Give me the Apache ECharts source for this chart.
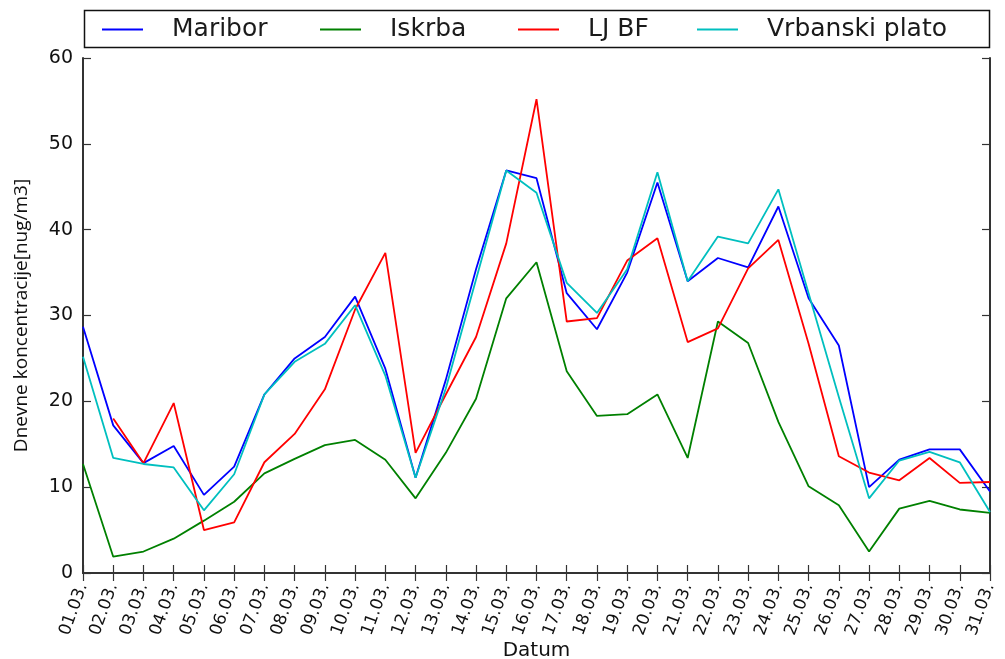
<!DOCTYPE html>
<html>
<head>
<meta charset="utf-8">
<script src="https://cdn.jsdelivr.net/npm/echarts@6/dist/echarts.min.js"></script>
<style>
  html, body { margin: 0; padding: 0; background: #fff; }
  #chart { width: 1005px; height: 659px; }
</style>
</head>
<body>
<div id="chart"></div>
<script>
// Daily concentrations, March, four measuring stations
const days = ['01.03.', '02.03.', '03.03.', '04.03.', '05.03.', '06.03.', '07.03.', '08.03.',
  '09.03.', '10.03.', '11.03.', '12.03.', '13.03.', '14.03.', '15.03.', '16.03.', '17.03.',
  '18.03.', '19.03.', '20.03.', '21.03.', '22.03.', '23.03.', '24.03.', '25.03.', '26.03.',
  '27.03.', '28.03.', '29.03.', '30.03.', '31.03.'];

const maribor = [28.7, 17.2, 12.8, 14.8, 9.1, 12.4, 20.8, 25.0, 27.5, 32.2, 23.8, 11.1, 22.5,
  35.4, 46.9, 46.0, 32.6, 28.4, 35.0, 45.5, 34.0, 36.7, 35.6, 42.7, 32.0, 26.5, 10.0, 13.2,
  14.4, 14.4, 9.5];

const iskrba = [12.7, 1.9, 2.5, 4.0, 6.1, 8.3, 11.6, 13.3, 14.9, 15.5, 13.2, 8.7, 14.0, 20.3,
  32.0, 36.2, 23.5, 18.3, 18.5, 20.8, 13.4, 29.3, 26.8, 17.6, 10.1, 7.9, 2.5, 7.5, 8.4, 7.4, 7.0];

const ljbf = [null, 18.0, 12.8, 19.8, 5.0, 5.9, 12.9, 16.2, 21.4, 30.7, 37.3, 14.0, 20.8, 27.5,
  38.4, 55.2, 29.3, 29.7, 36.4, 39.0, 26.9, 28.5, 35.5, 38.8, 26.7, 13.6, 11.7, 10.8, 13.4,
  10.5, 10.6];

const vrbanski = [25.2, 13.4, 12.7, 12.3, 7.3, 11.5, 20.8, 24.6, 26.7, 31.2, 23.0, 11.1, 21.5,
  34.2, 46.9, 44.3, 33.8, 30.3, 35.4, 46.7, 34.0, 39.2, 38.4, 44.7, 32.6, 20.5, 8.7, 13.1,
  14.1, 12.9, 7.1];

const yTicks = { min: 0, max: 60, interval: 10 };

const stations = [
  { name: 'Maribor', data: maribor, color: '#0000ff' },
  { name: 'Iskrba', data: iskrba, color: '#008000' },
  { name: 'LJ BF', data: ljbf, color: '#ff0000' },
  { name: 'Vrbanski plato', data: vrbanski, color: '#00bfbf' }
];

// left edge of each legend entry inside the framed legend strip
const legendLeft = [102, 320, 518, 697];

const frame = { show: true, lineStyle: { color: '#333', width: 2 } };
const tickIn = { show: true, inside: true, length: 8, lineStyle: { color: '#333', width: 1.2 } };
const font = 'DejaVu Sans';

const legends = stations.map((s, i) => ({
  left: legendLeft[i],
  top: 17,
  padding: 0,
  itemWidth: 41,
  itemHeight: 2,
  icon: 'rect',
  textStyle: { fontFamily: font, fontSize: 25, color: '#1a1a1a', padding: [0, 0, 0, 24] },
  data: [s.name]
}));

const chart = echarts.init(document.getElementById('chart'), null, { renderer: 'canvas' });
chart.setOption({
  animation: false,
  backgroundColor: '#fff',
  grid: { left: 83, right: 15, top: 58, bottom: 86, containLabel: false, outerBoundsMode: 'none' },
  legend: legends,
  graphic: [{
    type: 'rect',
    shape: { x: 84.5, y: 10.5, width: 905, height: 37 },
    style: { fill: 'none', stroke: '#111', lineWidth: 1.5 },
    silent: true
  }],
  xAxis: [
    {
      type: 'category',
      data: days,
      boundaryGap: false,
      position: 'bottom',
      axisLine: frame,
      axisTick: Object.assign({ alignWithLabel: true, interval: 0 }, tickIn),
      axisLabel: {
        interval: 0, rotate: 70, margin: 11,
        fontFamily: font, fontSize: 17, color: '#111'
      },
      splitLine: { show: false },
      name: 'Datum',
      nameLocation: 'middle',
      nameGap: 68,
      nameMoveOverlap: false,
      nameTextStyle: { fontFamily: font, fontSize: 20, color: '#111' }
    },
    {
      type: 'category',
      data: days,
      boundaryGap: false,
      position: 'top',
      axisLine: frame,
      axisTick: Object.assign({ interval: 0 }, tickIn),
      axisLabel: { show: false },
      splitLine: { show: false }
    }
  ],
  yAxis: [
    {
      type: 'value',
      min: yTicks.min, max: yTicks.max, interval: yTicks.interval,
      position: 'left',
      axisLine: frame,
      axisTick: tickIn,
      axisLabel: { margin: 10, fontFamily: font, fontSize: 19, color: '#111' },
      splitLine: { show: false },
      name: 'Dnevne koncentracije[nug/m3]',
      nameLocation: 'middle',
      nameGap: 52,
      nameMoveOverlap: false,
      nameTextStyle: { fontFamily: 'Open Sans', fontSize: 19, color: '#111' }
    },
    {
      type: 'value',
      min: yTicks.min, max: yTicks.max, interval: yTicks.interval,
      position: 'right',
      axisLine: frame,
      axisTick: tickIn,
      axisLabel: { show: false },
      splitLine: { show: false }
    }
  ],
  series: stations.map(s => ({
    name: s.name,
    type: 'line',
    data: s.data,
    xAxisIndex: 0,
    yAxisIndex: 0,
    symbol: 'none',
    connectNulls: false,
    lineStyle: { color: s.color, width: 1.8 },
    itemStyle: { color: s.color }
  }))
});
</script>
</body>
</html>
